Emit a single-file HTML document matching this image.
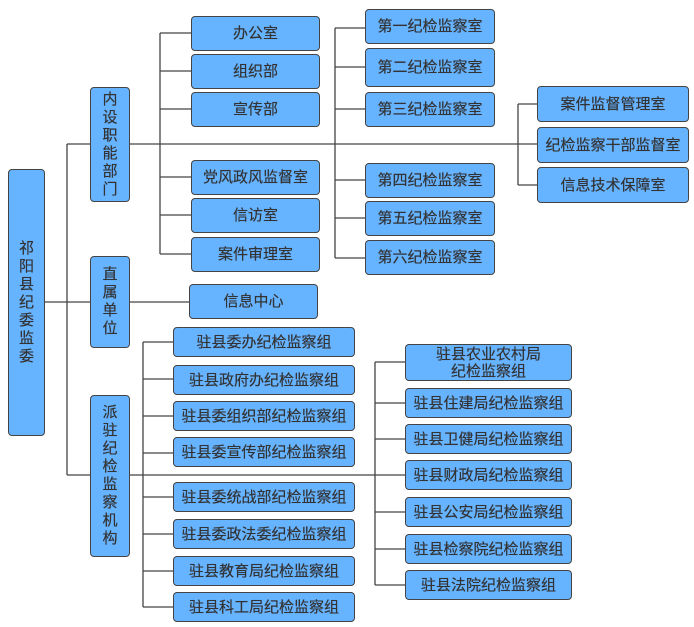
<!DOCTYPE html>
<html><head><meta charset="utf-8"><style>
body{margin:0;width:694px;height:627px;background:#fff;position:relative;overflow:hidden;font-family:"Liberation Sans","Noto Sans CJK SC",sans-serif;}
.b{position:absolute;box-sizing:border-box;background:#66b3ff;border:1px solid #444;border-radius:4px;color:#333;font-size:15px;display:flex;align-items:center;justify-content:center;text-align:center;line-height:17px;text-shadow:0 0 0.4px #333;}
.v{line-height:18px;font-size:15px;width:1em;word-break:break-all;}
svg{position:absolute;left:0;top:0;}
</style></head><body>
<svg width="694" height="627"><g stroke="#444" stroke-width="1.3" fill="none">
<path d="M44 302H67M67 144V475M67 144H90M67 302H90M67 475H90"/>
<path d="M129 144H537M129 302H189M129 475H405"/>
<path d="M160 33V254M160 33H191M160 71H191M160 109H191M160 177H191M160 215H191M160 254H191"/>
<path d="M335 28V258M335 28H365M335 67H365M335 109H365M335 180H365M335 218H365M335 258H365"/>
<path d="M518 104V185M518 104H537M518 185H537"/>
<path d="M143 342V607M143 342H173M143 379H173M143 416H173M143 453H173M143 497H173M143 534H173M143 571H173M143 607H173"/>
<path d="M375 362V585M375 362H405M375 403H405M375 439H405M375 512H405M375 549H405M375 585H405"/>
</g></svg>
<div class="b" style="left:8px;top:169px;width:37px;height:267px"><div class="v">祁阳县纪委监委</div></div>
<div class="b" style="left:90px;top:87px;width:40px;height:115px"><div class="v">内设职能部门</div></div>
<div class="b" style="left:90px;top:256px;width:40px;height:92px"><div class="v">直属单位</div></div>
<div class="b" style="left:90px;top:395px;width:40px;height:162px"><div class="v">派驻纪检监察机构</div></div>

<div class="b" style="left:191px;top:16px;width:129px;height:35px">办公室</div>
<div class="b" style="left:191px;top:54px;width:129px;height:35px">组织部</div>
<div class="b" style="left:191px;top:92px;width:129px;height:35px">宣传部</div>
<div class="b" style="left:191px;top:160px;width:129px;height:35px">党风政风监督室</div>
<div class="b" style="left:191px;top:198px;width:129px;height:35px">信访室</div>
<div class="b" style="left:191px;top:237px;width:129px;height:35px">案件审理室</div>
<div class="b" style="left:189px;top:284px;width:129px;height:35px">信息中心</div>

<div class="b" style="left:365px;top:9px;width:130px;height:35px">第一纪检监察室</div>
<div class="b" style="left:365px;top:48px;width:130px;height:39px">第二纪检监察室</div>
<div class="b" style="left:365px;top:92px;width:130px;height:35px">第三纪检监察室</div>
<div class="b" style="left:365px;top:163px;width:130px;height:35px">第四纪检监察室</div>
<div class="b" style="left:365px;top:201px;width:130px;height:35px">第五纪检监察室</div>
<div class="b" style="left:365px;top:240px;width:130px;height:35px">第六纪检监察室</div>

<div class="b" style="left:537px;top:86px;width:152px;height:36px">案件监督管理室</div>
<div class="b" style="left:537px;top:127px;width:152px;height:36px">纪检监察干部监督室</div>
<div class="b" style="left:537px;top:167px;width:152px;height:36px">信息技术保障室</div>

<div class="b" style="left:173px;top:327px;width:182px;height:30px">驻县委办纪检监察组</div>
<div class="b" style="left:173px;top:365px;width:182px;height:30px">驻县政府办纪检监察组</div>
<div class="b" style="left:173px;top:401px;width:182px;height:30px">驻县委组织部纪检监察组</div>
<div class="b" style="left:173px;top:437px;width:182px;height:30px">驻县委宣传部纪检监察组</div>
<div class="b" style="left:173px;top:482px;width:182px;height:30px">驻县委统战部纪检监察组</div>
<div class="b" style="left:173px;top:519px;width:182px;height:30px">驻县委政法委纪检监察组</div>
<div class="b" style="left:173px;top:556px;width:182px;height:30px">驻县教育局纪检监察组</div>
<div class="b" style="left:173px;top:592px;width:182px;height:30px">驻县科工局纪检监察组</div>

<div class="b" style="left:405px;top:344px;width:167px;height:37px">驻县农业农村局<br>纪检监察组</div>
<div class="b" style="left:405px;top:388px;width:167px;height:30px">驻县住建局纪检监察组</div>
<div class="b" style="left:405px;top:424px;width:167px;height:30px">驻县卫健局纪检监察组</div>
<div class="b" style="left:405px;top:460px;width:167px;height:30px">驻县财政局纪检监察组</div>
<div class="b" style="left:405px;top:497px;width:167px;height:30px">驻县公安局纪检监察组</div>
<div class="b" style="left:405px;top:534px;width:167px;height:30px">驻县检察院纪检监察组</div>
<div class="b" style="left:405px;top:570px;width:167px;height:30px">驻县法院纪检监察组</div>
</body></html>
